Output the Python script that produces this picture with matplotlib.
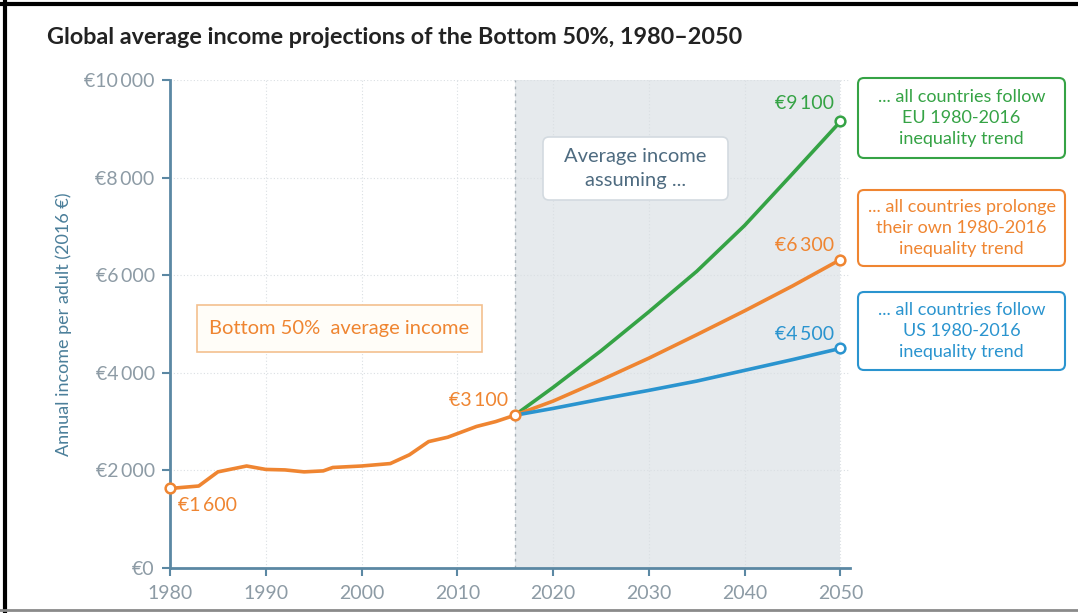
import matplotlib.pyplot as plt
from matplotlib.lines import Line2D
from matplotlib.patches import FancyBboxPatch

plt.rcParams['font.family'] = ['Lato', 'DejaVu Sans']

# historical bottom 50% average income (2016 EUR)
hist_years = [1980, 1983, 1985, 1988, 1990, 1992, 1994, 1996, 1997, 2000, 2003,
              2005, 2007, 2009, 2012, 2014, 2016]
hist_income = [1630, 1680, 1970, 2090, 2020, 2010, 1970, 1990, 2060, 2090, 2140,
               2320, 2590, 2680, 2900, 3000, 3130]

# projections 2016-2050
proj_years = [2016, 2020, 2025, 2030, 2035, 2040, 2045, 2050]
eu_trend = [3130, 3700, 4450, 5250, 6080, 7020, 8080, 9150]
own_trend = [3130, 3420, 3850, 4300, 4780, 5270, 5780, 6320]
us_trend = [3130, 3270, 3460, 3640, 3830, 4050, 4270, 4500]

x_ticks = [1980, 1990, 2000, 2010, 2020, 2030, 2040, 2050]
y_ticks = [0, 2000, 4000, 6000, 8000, 10000]
y_ticklabels = ['€0', '€2\u2009000', '€4\u2009000', '€6\u2009000', '€8\u2009000', '€10\u2009000']

ORANGE = '#ef8531'
GREEN = '#35a345'
BLUE = '#2a94cf'
AXIS = '#5b88a3'
TICKTXT = '#8d9ba5'

W, H = 1078, 613
fig = plt.figure(figsize=(W / 100, H / 100), dpi=100)
ax = fig.add_axes([170 / W, 45 / H, 680 / W, 488 / H])

ax.set_xlim(1980, 2051)
ax.set_ylim(0, 10000)


def px_box(x0, y0, x1, y1, text, color, ec, fc='white', rounded=True, size=14, ls=1.2, lw=1.5):
    # box given in pixel coordinates of the reference (y from top)
    style = 'round,pad=0,rounding_size=%f' % (6 / W) if rounded else 'square,pad=0'
    box = FancyBboxPatch((x0 / W, 1 - y1 / H), (x1 - x0) / W, (y1 - y0) / H,
                         boxstyle=style, transform=fig.transFigure, fc=fc, ec=ec, lw=lw,
                         mutation_aspect=W / H, zorder=5)
    fig.add_artist(box)
    fig.text((x0 + x1) / 2 / W, 1 - (y0 + y1) / 2 / H, text, color=color, fontsize=size,
             ha='center', va='center', linespacing=ls, zorder=6)


# projection shading
ax.axvspan(2016, 2050, ymin=0, ymax=1, color='#e6eaed', zorder=0, lw=0)
ax.axvline(2016, color='#a7b0b7', lw=1, ls=(0, (2, 3)), zorder=1)

for x in x_ticks[1:]:
    ax.axvline(x, color='#dadfe3', lw=0.8, ls=(0, (1, 2)), zorder=0.5)
for y in y_ticks[1:]:
    ax.axhline(y, color='#dadfe3', lw=0.8, ls=(0, (1, 2)), zorder=0.5)

ax.plot(hist_years, hist_income, color=ORANGE, lw=2.6, zorder=3, solid_capstyle='round')
ax.plot(proj_years, eu_trend, color=GREEN, lw=2.6, zorder=3)
ax.plot(proj_years, own_trend, color=ORANGE, lw=2.6, zorder=3)
ax.plot(proj_years, us_trend, color=BLUE, lw=2.6, zorder=3)

mk = dict(marker='o', ms=7, mfc='white', mew=1.8, ls='none', zorder=4, clip_on=False)
ax.plot([hist_years[0]], [hist_income[0]], mec=ORANGE, **mk)
ax.plot([hist_years[-1]], [hist_income[-1]], mec=ORANGE, **mk)
ax.plot([proj_years[-1]], [eu_trend[-1]], mec=GREEN, **mk)
ax.plot([proj_years[-1]], [own_trend[-1]], mec=ORANGE, **mk)
ax.plot([proj_years[-1]], [us_trend[-1]], mec=BLUE, **mk)

# value labels
ax.text(1980.8, 1290, '€1\u2009600', color=ORANGE, fontsize=14, va='center', ha='left')
ax.text(2015.3, 3440, '€3\u2009100', color=ORANGE, fontsize=14, va='center', ha='right')
ax.text(2049.3, 9510, '€9\u2009100', color=GREEN, fontsize=14, va='center', ha='right')
ax.text(2049.3, 6600, '€6\u2009300', color=ORANGE, fontsize=14, va='center', ha='right')
ax.text(2049.3, 4790, '€4\u2009500', color=BLUE, fontsize=14, va='center', ha='right')

# text boxes
px_box(197, 305, 482, 352, 'Bottom 50%  average income', ORANGE, '#f3c08f', fc='#fffdf8',
       rounded=False, size=14.5, lw=1.2)
px_box(543, 137, 728, 200, 'Average income\nassuming ...', '#4e6b80', '#d3dae0',
       size=14.5, ls=1.55, lw=1.2)
px_box(858, 78, 1065, 158, '... all countries follow\nEU 1980-2016\ninequality trend', GREEN, GREEN,
       size=13, ls=1.4)
px_box(858, 190, 1065, 266, '... all countries prolonge\ntheir own 1980-2016\ninequality trend', ORANGE,
       ORANGE, size=13, ls=1.4)
px_box(858, 292, 1065, 370, '... all countries follow\nUS 1980-2016\ninequality trend', BLUE, BLUE,
       size=13, ls=1.4)

# axes styling
for side in ['top', 'right']:
    ax.spines[side].set_visible(False)
for side in ['left', 'bottom']:
    ax.spines[side].set_color(AXIS)
    ax.spines[side].set_linewidth(2)
ax.set_xticks(x_ticks)
ax.set_yticks(y_ticks)
ax.set_yticklabels(y_ticklabels)
ax.tick_params(axis='both', colors=AXIS, length=6, width=1.5, labelsize=14,
               labelcolor=TICKTXT, direction='out')
ax.tick_params(axis='x', pad=6)
ax.tick_params(axis='y', pad=5)
ax.set_ylabel('Annual income per adult (2016 €)', color='#4b7f9a', fontsize=13, labelpad=9)

fig.text(47 / W, 1 - 37 / H, 'Global average income projections of the Bottom 50%, 1980\u20132050',
         fontsize=16.8, fontweight='bold', color='#222222', ha='left', va='center')

# screenshot frame
fig.add_artist(Line2D([0, 1], [1 - 4 / H, 1 - 4 / H], color='black', lw=3, transform=fig.transFigure))
fig.add_artist(Line2D([5 / W, 5 / W], [0, 1], color='black', lw=3, transform=fig.transFigure))
fig.add_artist(Line2D([0, 1], [3 / H, 3 / H], color='#8a8a8a', lw=2, transform=fig.transFigure))

fig.savefig('out.png', dpi=100)
